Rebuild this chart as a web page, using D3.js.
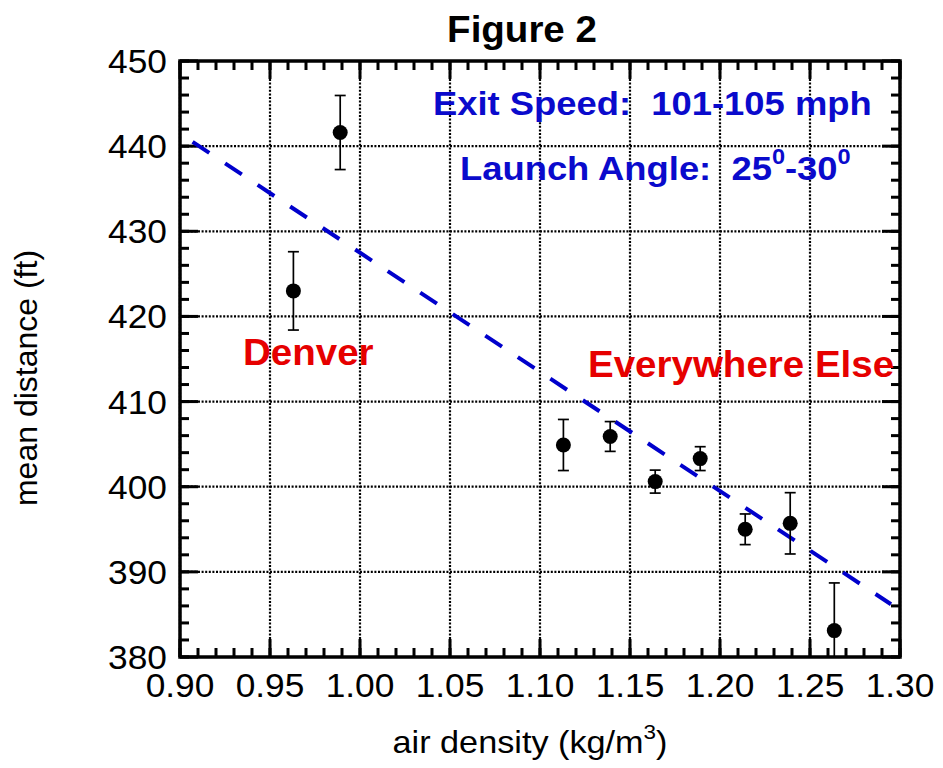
<script src="https://cdnjs.cloudflare.com/ajax/libs/d3/7.8.5/d3.min.js"></script>

<style type="text/css">
  body {
    margin: 0;
    background: #fff;
    font-family: Arial, "Liberation Sans", sans-serif;
  }

  .grid line {
    stroke: #000;
    stroke-width: 2.2px;
    stroke-dasharray: 2,1.6;
  }

  .tick-label { font-size: 33px; fill: #000; }
  .blue-note { fill: #0a0acc; font-weight: bold; font-size: 34px; }
  .red-note { fill: #e60000; font-weight: bold; font-size: 36px; }
</style>

<body>
</body>

<script>

// measured points (air density kg/m^3, mean distance ft, half error bar ft)
var density  = [0.963, 0.989, 1.113, 1.139, 1.164, 1.189, 1.214, 1.239, 1.2635];
var distance = [423.0, 441.6, 404.9, 405.9, 400.6, 403.3, 395.0, 395.7, 383.1];
var errHalf  = [4.6,   4.35,  3.0,   1.75,  1.35,  1.4,   1.8,   3.6,   5.6];

// dashed fit line ends
var fitX = [0.907, 1.295];
var fitY = [440.5, 386.2];

var xTicks = [0.90, 0.95, 1.00, 1.05, 1.10, 1.15, 1.20, 1.25, 1.30];
var yTicks = [380, 390, 400, 410, 420, 430, 440, 450];

var margin = {top: 61, right: 43, bottom: 111, left: 180};
var width = 943 - margin.left - margin.right,
    height = 768 - margin.top - margin.bottom;

// the picture is a bit wider than tall, so text is stretched sideways
var stretch = 1.07;

var svg = d3.select("body").append("svg")
    .attr("width", 943)
    .attr("height", 768);

var g = svg.append("g")
    .attr("transform", "translate(" + margin.left + "," + margin.top + ")");

var x = d3.scaleLinear().domain([0.90, 1.30]).range([0, width]);
var y = d3.scaleLinear().domain([380, 450]).range([height, 0]);

var xMinor = d3.range(90, 131, 1).map(function(d) { return d / 100; });
var yMinor = d3.range(380, 451, 2);

// dotted grid
g.append("g").attr("class", "grid")
  .selectAll("line").data(xTicks).enter().append("line")
    .attr("x1", function(d) { return x(d); })
    .attr("x2", function(d) { return x(d); })
    .attr("y1", 0).attr("y2", height);

g.append("g").attr("class", "grid")
  .selectAll("line").data(yTicks).enter().append("line")
    .attr("y1", function(d) { return y(d); })
    .attr("y2", function(d) { return y(d); })
    .attr("x1", 0).attr("x2", width);

// inward ticks on all four sides
function xTickMarks(vals, len) {
  [0, height].forEach(function(y0) {
    var dir = y0 === 0 ? 1 : -1;
    g.selectAll(null).data(vals).enter().append("line")
        .attr("x1", function(d) { return x(d); })
        .attr("x2", function(d) { return x(d); })
        .attr("y1", y0).attr("y2", y0 + dir * len)
        .attr("stroke", "#000").attr("stroke-width", 3);
  });
}
function yTickMarks(vals, len) {
  [0, width].forEach(function(x0) {
    var dir = x0 === 0 ? 1 : -1;
    g.selectAll(null).data(vals).enter().append("line")
        .attr("y1", function(d) { return y(d); })
        .attr("y2", function(d) { return y(d); })
        .attr("x1", x0).attr("x2", x0 + dir * len)
        .attr("stroke", "#000").attr("stroke-width", 3);
  });
}
xTickMarks(xMinor, 9);
xTickMarks(xTicks, 18);
yTickMarks(yMinor, 9);
yTickMarks(yTicks, 18);

// frame
g.append("rect")
    .attr("width", width).attr("height", height)
    .attr("fill", "none").attr("stroke", "#000").attr("stroke-width", 3.5);

// tick labels
var fmtX = d3.format(".2f");
g.append("g").selectAll("text").data(xTicks).enter().append("text")
    .attr("class", "tick-label")
    .attr("text-anchor", "middle")
    .attr("transform", function(d) {
      return "translate(" + x(d) + "," + (height + 40) + ") scale(" + stretch + ",1)";
    })
    .text(fmtX);

g.append("g").selectAll("text").data(yTicks).enter().append("text")
    .attr("class", "tick-label")
    .attr("text-anchor", "end")
    .attr("transform", function(d) {
      return "translate(-13," + (y(d) + 12) + ") scale(" + stretch + ",1)";
    })
    .text(function(d) { return d; });

// fit line
var line = d3.line()
    .x(function(d) { return x(d[0]); })
    .y(function(d) { return y(d[1]); });

g.append("path")
    .datum(d3.zip(fitX, fitY))
    .attr("d", line)
    .attr("fill", "none")
    .attr("stroke", "#0000cc")
    .attr("stroke-width", 4)
    .attr("stroke-dasharray", "20,19");

// points with error bars
var pts = d3.range(density.length).map(function(i) {
  return {x: density[i], y: distance[i], e: errHalf[i]};
});

g.append("clipPath").attr("id", "plotclip")
  .append("rect").attr("width", width).attr("height", height);

var pt = g.append("g").attr("clip-path", "url(#plotclip)")
  .selectAll(".pt").data(pts).enter().append("g").attr("class", "pt");

pt.append("line")
    .attr("x1", function(d) { return x(d.x); })
    .attr("x2", function(d) { return x(d.x); })
    .attr("y1", function(d) { return y(d.y + d.e); })
    .attr("y2", function(d) { return y(d.y - d.e); })
    .attr("stroke", "#000").attr("stroke-width", 1.7);

[1, -1].forEach(function(s) {
  pt.append("line")
      .attr("x1", function(d) { return x(d.x) - 5.5; })
      .attr("x2", function(d) { return x(d.x) + 5.5; })
      .attr("y1", function(d) { return y(d.y + s * d.e); })
      .attr("y2", function(d) { return y(d.y + s * d.e); })
      .attr("stroke", "#000").attr("stroke-width", 1.7);
});

pt.append("circle")
    .attr("cx", function(d) { return x(d.x); })
    .attr("cy", function(d) { return y(d.y); })
    .attr("r", 7.5)
    .attr("fill", "#000");

// texts
function stretched(px, py) {
  return svg.append("text")
      .attr("transform", "translate(" + px + "," + py + ") scale(" + stretch + ",1)");
}

stretched(522, 42)
    .attr("text-anchor", "middle")
    .style("font-size", "36px").style("font-weight", "bold")
    .text("Figure 2");

stretched(433, 115)
    .attr("class", "blue-note")
    .attr("xml:space", "preserve")
    .text("Exit Speed:  101-105 mph");

var la = stretched(460, 180)
    .attr("class", "blue-note")
    .attr("xml:space", "preserve");
la.append("tspan").text("Launch Angle:  25");
la.append("tspan").attr("dy", -16).style("font-size", "22px").text("0");
la.append("tspan").attr("dy", 16).text("-30");
la.append("tspan").attr("dy", -16).style("font-size", "22px").text("0");

stretched(243, 365)
    .attr("class", "red-note")
    .text("Denver");

stretched(588, 377)
    .attr("class", "red-note")
    .text("Everywhere Else");

var xt = stretched(530, 753)
    .attr("text-anchor", "middle")
    .style("font-size", "32px");
xt.append("tspan").text("air density (kg/m");
xt.append("tspan").attr("dy", -14).style("font-size", "21px").text("3");
xt.append("tspan").attr("dy", 14).text(")");

svg.append("text")
    .attr("transform", "translate(37,378) rotate(-90)")
    .attr("text-anchor", "middle")
    .style("font-size", "32px")
    .text("mean distance (ft)");

</script>
